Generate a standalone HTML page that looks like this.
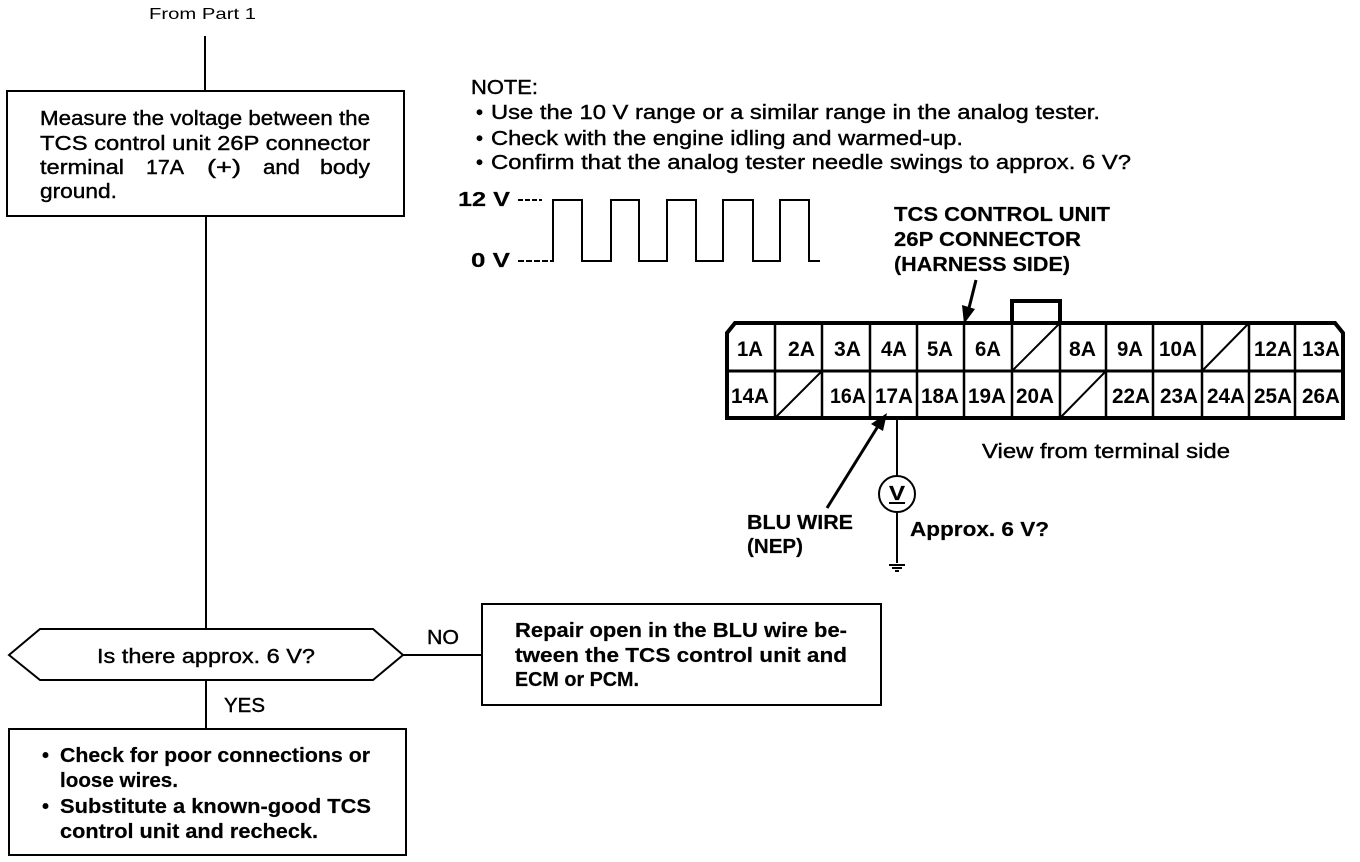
<!DOCTYPE html>
<html>
<head>
<meta charset="utf-8">
<style>
html,body{margin:0;padding:0;background:#fff;}
svg{display:block;}
text{font-family:"Liberation Sans",sans-serif;fill:#000;}
.n{font-size:20px;font-weight:400;stroke:#000;stroke-width:.4px;}
.b{font-size:20px;font-weight:700;stroke:#000;stroke-width:.2px;}
.c{font-size:21px;font-weight:700;}
</style>
</head>
<body>
<svg width="1360" height="862" viewBox="0 0 1360 862" xmlns="http://www.w3.org/2000/svg">
<rect width="1360" height="862" fill="#fff"/>

<g fill="none" stroke="#000" stroke-width="2">
<path d="M205 36V91M206 216V629M206 680V729M403 655H482"/>
<rect x="7" y="91" width="397" height="125"/>
<path d="M9 655L40 629H373L403 655L373 680H40Z"/>
<rect x="482" y="604" width="399" height="101"/>
<rect x="9" y="729" width="397" height="126"/>
<path d="M518 200H542" stroke-dasharray="5 2"/>
<path d="M518 261H550" stroke-dasharray="6 2"/>
<path d="M550 261H553V200H582V261H611V200H639V261H667V200H696V261H723V200H753V261H780V200H809V261H820"/>
</g>

<g fill="none" stroke="#000">
<path d="M1012 323V301H1060V323" stroke-width="4"/>
<path d="M735 323H1335L1343 333V418H727V333Z" stroke-width="4"/>
<path d="M727 371H1343" stroke-width="3"/>
<path d="M775 323V418M822 323V418M870 323V418M917 323V418M964 323V418M1012 323V418M1060 323V418M1106 323V418M1153 323V418M1202 323V418M1249 323V418M1295 323V418" stroke-width="2.5"/>
<path d="M1012 371L1060 323M1202 371L1249 323M775 418L822 371M1060 418L1106 371" stroke-width="2"/>
<path d="M897 417V476M897 512V563" stroke-width="2"/>
<circle cx="897" cy="494" r="18" stroke-width="2"/>
<path d="M889 503H905" stroke-width="2"/>
<path d="M889 565H905M892 568H902M895 571H899" stroke-width="2"/>
<path d="M827 508L880 423" stroke-width="3"/>
<path d="M976 280L968 312" stroke-width="3"/>
</g>
<path d="M887 413L883 431L871 424Z" fill="#000"/>
<path d="M964 324L962 305L975 309Z" fill="#000"/>

<text class="n" style="font-size:16px;stroke-width:0" x="149" y="19" textLength="107" lengthAdjust="spacingAndGlyphs">From Part 1</text>

<text class="n" x="40" y="125" textLength="330" lengthAdjust="spacingAndGlyphs">Measure the voltage between the</text>
<text class="n" x="40" y="150" textLength="330" lengthAdjust="spacingAndGlyphs">TCS control unit 26P connector</text>
<text class="n" x="40" y="174" textLength="84" lengthAdjust="spacingAndGlyphs">terminal</text>
<text class="n" x="146" y="174" textLength="38" lengthAdjust="spacingAndGlyphs">17A</text>
<text class="n" x="207" y="174" textLength="34" lengthAdjust="spacingAndGlyphs">(+)</text>
<text class="n" x="263" y="174" textLength="37" lengthAdjust="spacingAndGlyphs">and</text>
<text class="n" x="320" y="174" textLength="50" lengthAdjust="spacingAndGlyphs">body</text>
<text class="n" x="40" y="198" textLength="77" lengthAdjust="spacingAndGlyphs">ground.</text>

<text class="n" x="471" y="94" textLength="67" lengthAdjust="spacingAndGlyphs">NOTE:</text>
<text class="n" x="476" y="119">•</text>
<text class="n" x="491" y="119" textLength="609" lengthAdjust="spacingAndGlyphs">Use the 10 V range or a similar range in the analog tester.</text>
<text class="n" x="476" y="145">•</text>
<text class="n" x="491" y="145" textLength="472" lengthAdjust="spacingAndGlyphs">Check with the engine idling and warmed-up.</text>
<text class="n" x="476" y="169">•</text>
<text class="n" x="491" y="169" textLength="640" lengthAdjust="spacingAndGlyphs">Confirm that the analog tester needle swings to approx. 6 V?</text>

<text class="b" x="458" y="206" textLength="52" lengthAdjust="spacingAndGlyphs">12 V</text>
<text class="b" x="471" y="267" textLength="39" lengthAdjust="spacingAndGlyphs">0 V</text>

<text class="b" x="894" y="221" textLength="216" lengthAdjust="spacingAndGlyphs">TCS CONTROL UNIT</text>
<text class="b" x="894" y="246" textLength="187" lengthAdjust="spacingAndGlyphs">26P CONNECTOR</text>
<text class="b" x="894" y="271" textLength="176" lengthAdjust="spacingAndGlyphs">(HARNESS SIDE)</text>

<g>
<text class="c" x="737" y="356" textLength="26" lengthAdjust="spacingAndGlyphs">1A</text>
<text class="c" x="788" y="356" textLength="27" lengthAdjust="spacingAndGlyphs">2A</text>
<text class="c" x="834" y="356" textLength="27" lengthAdjust="spacingAndGlyphs">3A</text>
<text class="c" x="881" y="356" textLength="26" lengthAdjust="spacingAndGlyphs">4A</text>
<text class="c" x="927" y="356" textLength="26" lengthAdjust="spacingAndGlyphs">5A</text>
<text class="c" x="975" y="356" textLength="26" lengthAdjust="spacingAndGlyphs">6A</text>
<text class="c" x="1069" y="356" textLength="27" lengthAdjust="spacingAndGlyphs">8A</text>
<text class="c" x="1117" y="356" textLength="26" lengthAdjust="spacingAndGlyphs">9A</text>
<text class="c" x="1159" y="356" textLength="38" lengthAdjust="spacingAndGlyphs">10A</text>
<text class="c" x="1254" y="356" textLength="38" lengthAdjust="spacingAndGlyphs">12A</text>
<text class="c" x="1302" y="356" textLength="38" lengthAdjust="spacingAndGlyphs">13A</text>
<text class="c" x="731" y="403" textLength="38" lengthAdjust="spacingAndGlyphs">14A</text>
<text class="c" x="830" y="403" textLength="36" lengthAdjust="spacingAndGlyphs">16A</text>
<text class="c" x="875" y="403" textLength="38" lengthAdjust="spacingAndGlyphs">17A</text>
<text class="c" x="921" y="403" textLength="38" lengthAdjust="spacingAndGlyphs">18A</text>
<text class="c" x="968" y="403" textLength="38" lengthAdjust="spacingAndGlyphs">19A</text>
<text class="c" x="1016" y="403" textLength="38" lengthAdjust="spacingAndGlyphs">20A</text>
<text class="c" x="1112" y="403" textLength="38" lengthAdjust="spacingAndGlyphs">22A</text>
<text class="c" x="1160" y="403" textLength="38" lengthAdjust="spacingAndGlyphs">23A</text>
<text class="c" x="1207" y="403" textLength="38" lengthAdjust="spacingAndGlyphs">24A</text>
<text class="c" x="1254" y="403" textLength="38" lengthAdjust="spacingAndGlyphs">25A</text>
<text class="c" x="1302" y="403" textLength="38" lengthAdjust="spacingAndGlyphs">26A</text>
</g>

<text class="n" x="982" y="458" textLength="248" lengthAdjust="spacingAndGlyphs">View from terminal side</text>
<text class="b" x="747" y="529" textLength="106" lengthAdjust="spacingAndGlyphs">BLU WIRE</text>
<text class="b" x="747" y="553" textLength="56" lengthAdjust="spacingAndGlyphs">(NEP)</text>
<text class="b" x="889" y="500" textLength="16" lengthAdjust="spacingAndGlyphs">V</text>
<text class="b" x="910" y="536" textLength="139" lengthAdjust="spacingAndGlyphs">Approx. 6 V?</text>

<text class="n" x="97" y="663" textLength="218" lengthAdjust="spacingAndGlyphs">Is there approx. 6 V?</text>
<text class="n" x="427" y="644" textLength="32" lengthAdjust="spacingAndGlyphs">NO</text>
<text class="n" x="224" y="712" textLength="41" lengthAdjust="spacingAndGlyphs">YES</text>

<text class="b" x="515" y="637" textLength="332" lengthAdjust="spacingAndGlyphs">Repair open in the BLU wire be-</text>
<text class="b" x="515" y="662" textLength="332" lengthAdjust="spacingAndGlyphs">tween the TCS control unit and</text>
<text class="b" x="515" y="686" textLength="124" lengthAdjust="spacingAndGlyphs">ECM or PCM.</text>

<text class="b" x="42" y="762">•</text>
<text class="b" x="60" y="762" textLength="310" lengthAdjust="spacingAndGlyphs">Check for poor connections or</text>
<text class="b" x="60" y="787" textLength="118" lengthAdjust="spacingAndGlyphs">loose wires.</text>
<text class="b" x="42" y="813">•</text>
<text class="b" x="60" y="813" textLength="311" lengthAdjust="spacingAndGlyphs">Substitute a known-good TCS</text>
<text class="b" x="60" y="838" textLength="258" lengthAdjust="spacingAndGlyphs">control unit and recheck.</text>
</svg>
</body>
</html>
